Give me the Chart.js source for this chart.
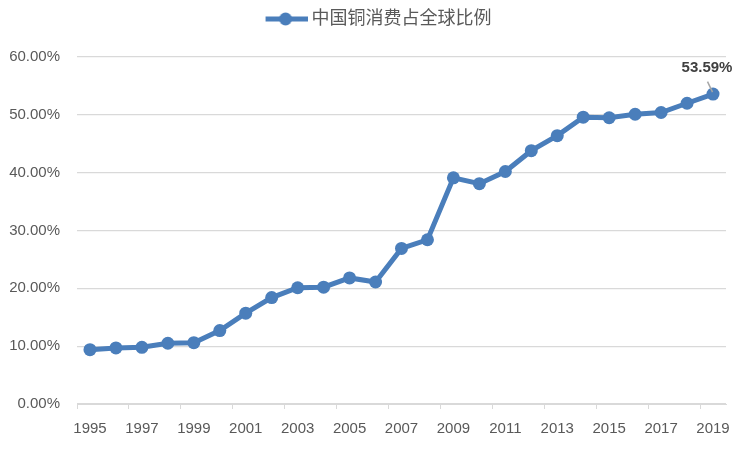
<!DOCTYPE html>
<html>
<head>
<meta charset="utf-8">
<script src="https://cdn.jsdelivr.net/npm/chart.js@4"></script>
<style>
html,body{margin:0;padding:0;background:#fff;}
#wrap{width:749px;height:454px;}
</style>
</head>
<body>
<div id="wrap"><canvas id="c" width="749" height="454"></canvas></div>
<script>
const years = ['1995','1996','1997','1998','1999','2000','2001','2002','2003','2004','2005','2006','2007','2008','2009','2010','2011','2012','2013','2014','2015','2016','2017','2018','2019'];
const shareValues = [9.4,9.7,9.8,10.5,10.6,12.7,15.7,18.4,20.1,20.2,21.8,21.1,26.9,28.4,39.1,38.1,40.2,43.8,46.4,49.6,49.5,50.1,50.4,52.0,53.59];
const seriesLabel = '中国铜消费占全球比例';
const yTickValues = [0,10,20,30,40,50,60];
const lastLabel = '53.59%';

const COLOR = '#4a7ebb';
const TEXT = '#595959';
const FONT = "'Liberation Sans', 'Noto Sans CJK SC', sans-serif";

// legend symbol: line with a circle
const sym = document.createElement('canvas');
sym.width = 52; sym.height = 16;
(function(){
  const g = sym.getContext('2d');
  g.strokeStyle = COLOR; g.lineWidth = 5; g.lineCap = 'butt';
  g.beginPath(); g.moveTo(10, 8); g.lineTo(52, 8); g.stroke();
  g.fillStyle = COLOR;
  g.beginPath(); g.arc(30, 8, 6.5, 0, Math.PI*2); g.fill();
})();

const legendSpace = {
  id: 'legendSpace',
  beforeInit(chart) {
    const lg = chart.legend;
    if (lg) {
      const origFit = lg.fit;
      lg.fit = function() { origFit.call(this); this.height += 19; };
      const origDraw = lg.draw;
      lg.draw = function() {
        const ctx = this.ctx;
        ctx.save();
        ctx.translate(13, 0);
        origDraw.call(this);
        ctx.restore();
      };
    }
  }
};

const labelPlugin = {
  id: 'lastLabel',
  afterDatasetsDraw(chart) {
    const meta = chart.getDatasetMeta(0);
    const p = meta.data[meta.data.length - 1];
    const ctx = chart.ctx;
    ctx.save();
    ctx.strokeStyle = '#a6a6a6';
    ctx.lineWidth = 1.5;
    ctx.beginPath();
    ctx.moveTo(p.x - 5.5, p.y - 12.5);
    ctx.lineTo(p.x - 0.5, p.y - 2);
    ctx.stroke();
    ctx.fillStyle = '#404040';
    ctx.font = "bold 15px " + FONT;
    ctx.textAlign = 'center';
    ctx.textBaseline = 'middle';
    ctx.fillText(lastLabel, p.x - 6, p.y - 26);
    ctx.restore();
  }
};

new Chart(document.getElementById('c'), {
  type: 'line',
  data: {
    labels: years,
    datasets: [{
      label: seriesLabel,
      data: shareValues,
      borderColor: COLOR,
      backgroundColor: COLOR,
      borderWidth: 5,
      pointRadius: 6.5,
      pointHoverRadius: 6.5,
      pointBackgroundColor: COLOR,
      pointBorderColor: COLOR,
      pointBorderWidth: 0,
      tension: 0,
      fill: false
    }]
  },
  options: {
    responsive: false,
    animation: false,
    devicePixelRatio: 1,
    layout: { padding: { left: 0, right: 23, top: 0, bottom: 0 } },
    plugins: {
      tooltip: { enabled: false },
      legend: {
        display: true,
        position: 'top',
        labels: {
          usePointStyle: true,
          pointStyle: sym,
          pointStyleWidth: 42,
          boxHeight: 16,
          color: TEXT,
          font: { family: FONT, size: 18 },
          padding: 10
        }
      }
    },
    scales: {
      x: {
        type: 'category',
        offset: true,
        border: { display: true, color: '#d9d9d9', width: 1 },
        grid: {
          display: true,
          offset: true,
          drawOnChartArea: false,
          drawTicks: true,
          tickLength: 5,
          color: (c) => (c.index % 2 === 0 ? '#d9d9d9' : 'rgba(0,0,0,0)')
        },
        ticks: {
          autoSkip: false,
          maxRotation: 0,
          minRotation: 0,
          padding: 11,
          color: TEXT,
          font: { family: FONT, size: 15 },
          callback: function(v, i) { return i % 2 === 0 ? this.getLabelForValue(v) : ''; }
        },
        afterFit: (s) => { s.height = 50; }
      },
      y: {
        min: 0,
        max: 60,
        border: { display: false },
        grid: { color: '#d9d9d9', lineWidth: 1.3, drawTicks: false },
        afterBuildTicks: (s) => { s.ticks = yTickValues.map(v => ({ value: v })); },
        ticks: {
          padding: 17,
          color: TEXT,
          font: { family: FONT, size: 15 },
          callback: (v) => Number(v).toFixed(2) + '%'
        },
        afterFit: (s) => { s.width = 77; }
      }
    }
  },
  plugins: [legendSpace, labelPlugin]
});
</script>
</body>
</html>
